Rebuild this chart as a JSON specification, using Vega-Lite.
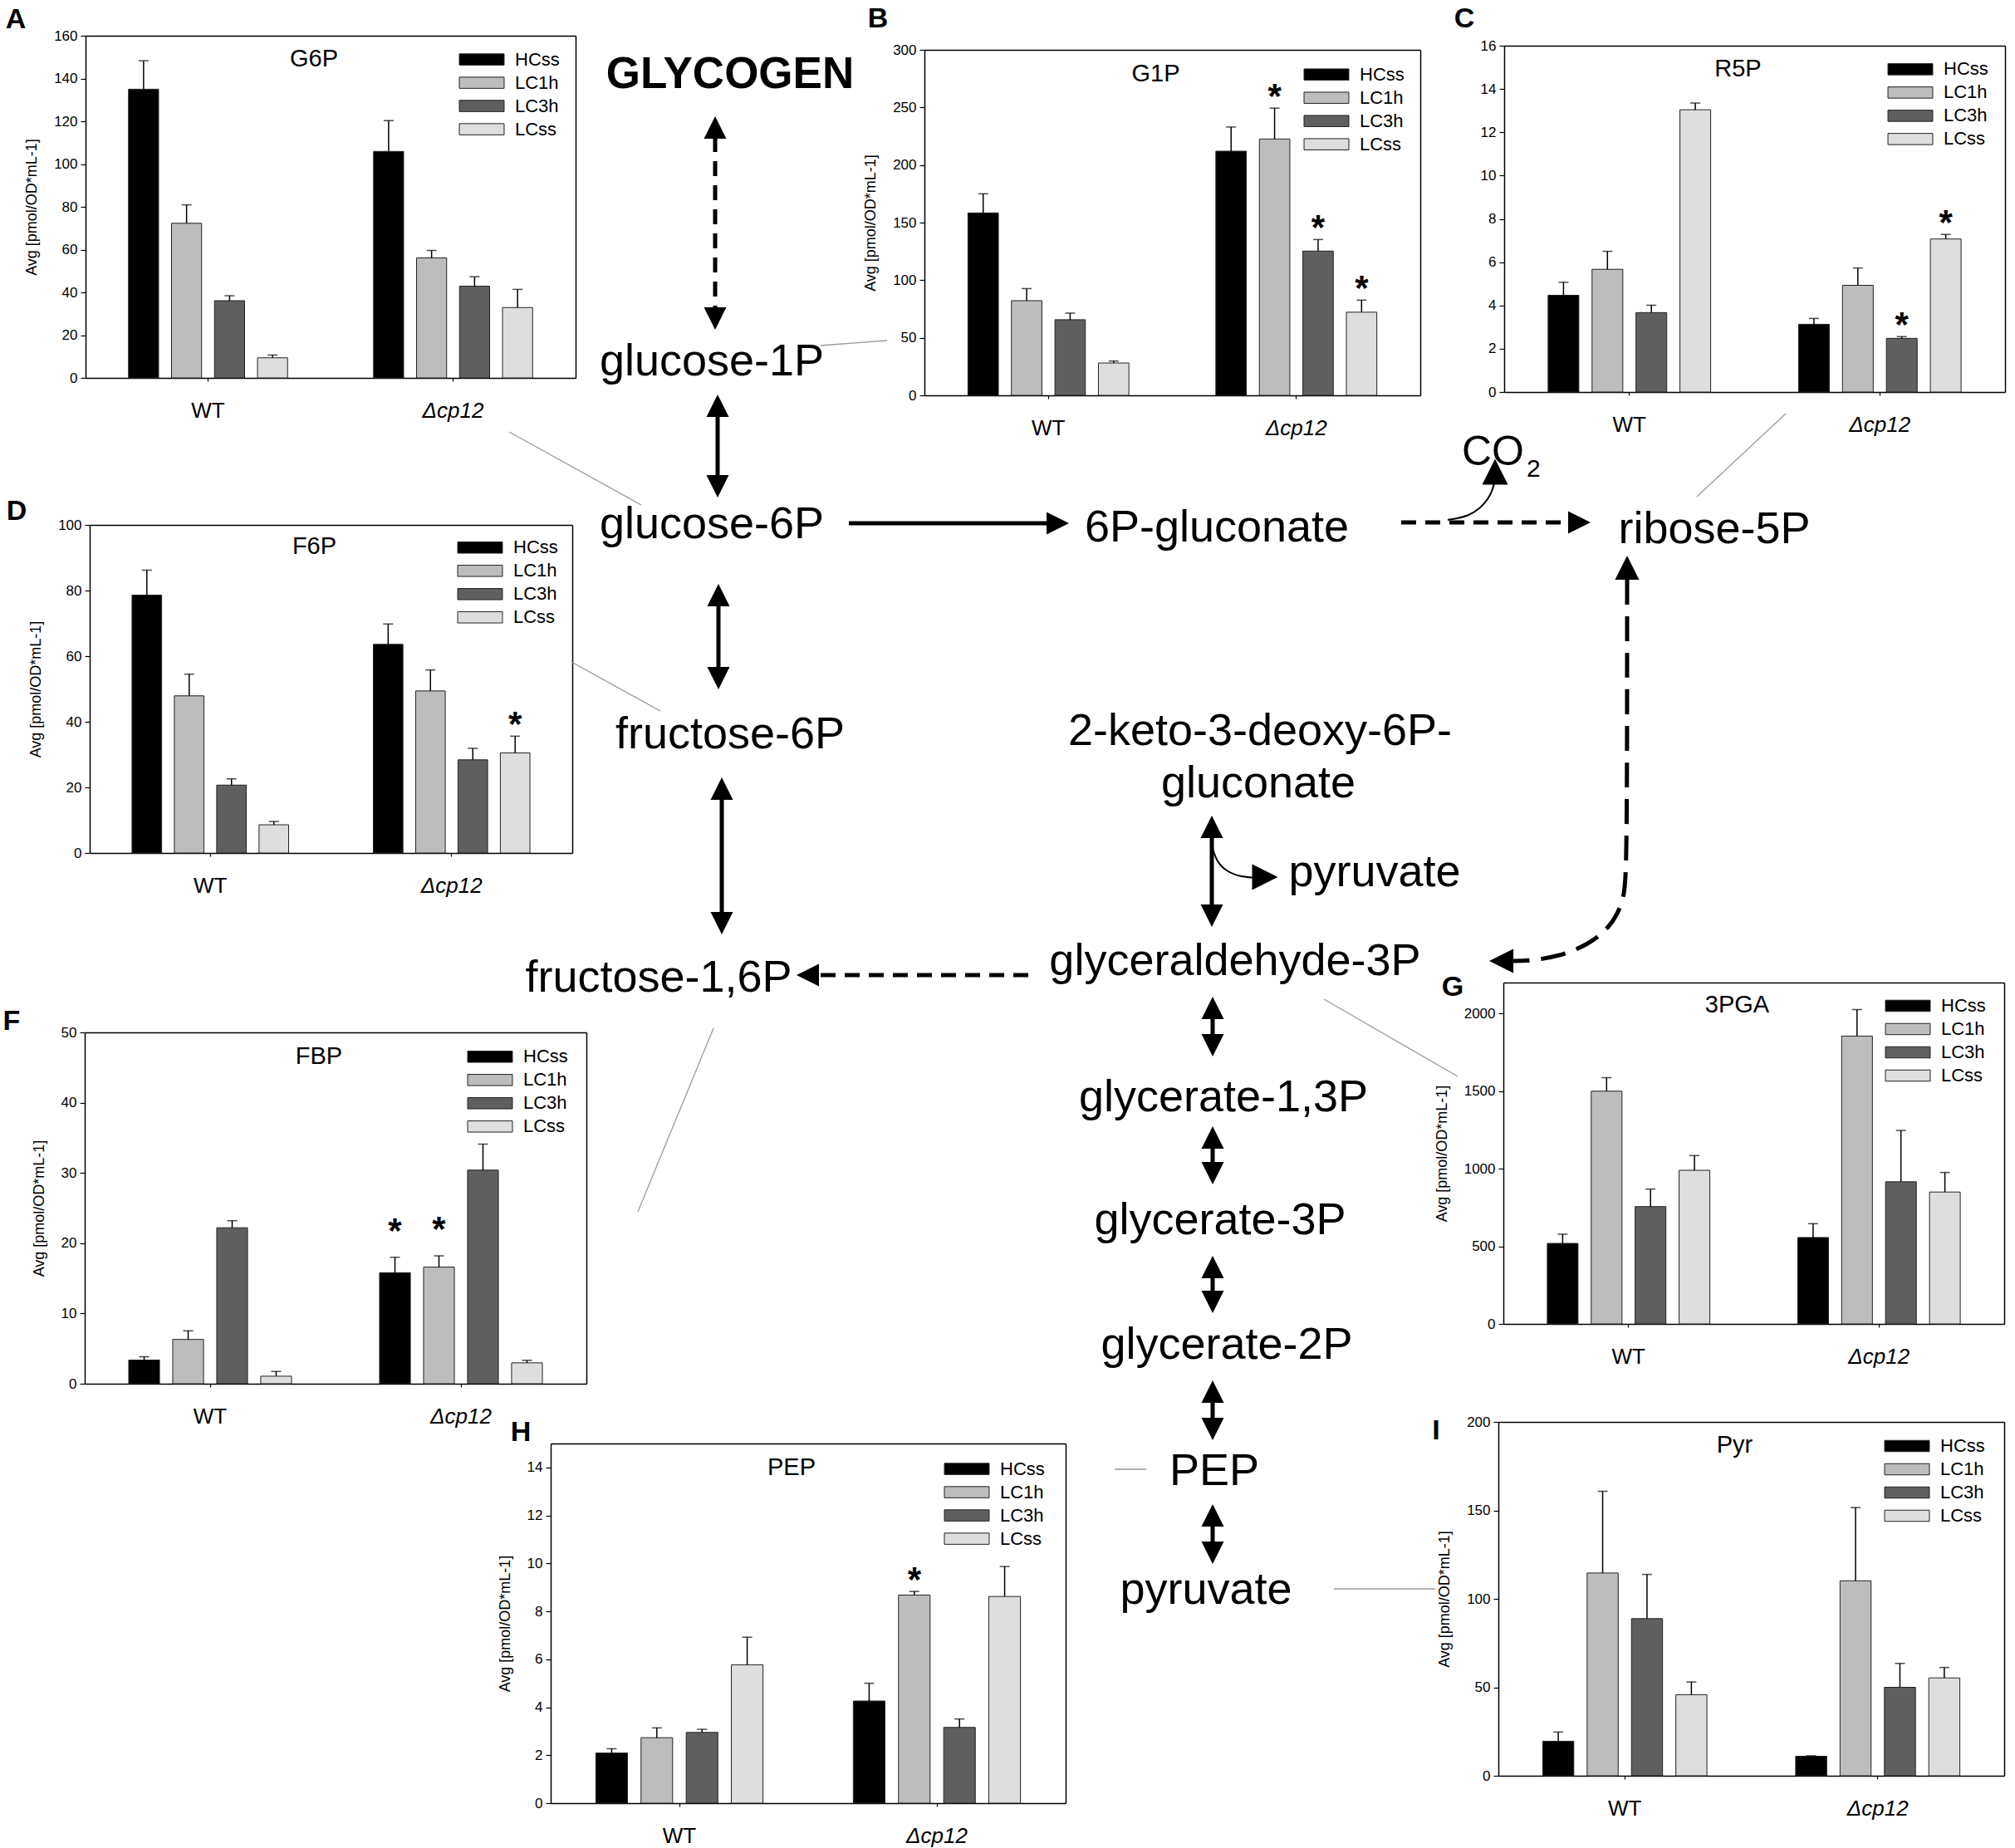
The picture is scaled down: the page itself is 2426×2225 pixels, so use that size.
{
"$schema":"https://vega.github.io/schema/vega-lite/v6.json",
"width":2426,"height":2225,"autosize":{"type":"none"},"padding":0,"background":"white",
"config":{"font":"Liberation Sans","view":{"stroke":null},
"axis":{"grid":false,"domainColor":"#000","domainWidth":1.5,"tickColor":"#000","tickWidth":1.2,"tickSize":6,"labelColor":"#000","labelFontSize":17,"labelPadding":4,"titleColor":"#000","titleFontSize":18,"titleFontWeight":"normal","titlePadding":17},
"legend":{"symbolStrokeColor":"#222","symbolStrokeWidth":1,"symbolOpacity":1,"labelFontSize":22,"labelColor":"#000","labelOffset":29,"rowPadding":6,"padding":0},
"text":{"color":"#000"}},
"resolve":{"scale":{"x":"independent","y":"independent","xOffset":"independent","color":"independent","size":"independent","angle":"independent"},"axis":{"x":"independent","y":"independent"},"legend":{"color":"independent","size":"independent"}},
"layer":[
{"encoding":{"x":{"field":"x","type":"quantitative","scale":{"domain":[0,242.6],"nice":false,"zero":false},"axis":null},"y":{"field":"y","type":"quantitative","scale":{"domain":[0,222.5],"nice":false,"zero":false,"reverse":true},"axis":null}},
"layer":[
{"data":{"values":[{"x":61.3,"y":52.0,"x2":77.2,"y2":60.8},{"x":98.8,"y":41.6,"x2":106.8,"y2":41.0},{"x":68.8,"y":79.7,"x2":79.5,"y2":85.6},{"x":215.0,"y":49.8,"x2":204.3,"y2":59.8},{"x":76.8,"y":145.9,"x2":85.9,"y2":123.8},{"x":159.4,"y":120.3,"x2":175.5,"y2":129.6},{"x":134.2,"y":176.9,"x2":138.0,"y2":176.9},{"x":160.6,"y":191.3,"x2":172.8,"y2":191.3}]},
"mark":{"type":"rule","color":"#9a9a9a","strokeWidth":1.3},"encoding":{"x2":{"field":"x2"},"y2":{"field":"y2"}}},
{"data":{"values":[{"x":86.4,"y":49.5,"x2":86.4,"y2":58.0},{"x":102.2,"y":63.0,"x2":127.5,"y2":63.0},{"x":86.5,"y":72.5,"x2":86.5,"y2":81.0},{"x":86.9,"y":95.5,"x2":86.9,"y2":110.5},{"x":145.9,"y":100.0,"x2":145.9,"y2":110.0},{"x":146.0,"y":121.5,"x2":146.0,"y2":125.5},{"x":146.0,"y":137.0,"x2":146.0,"y2":141.0},{"x":146.0,"y":152.5,"x2":146.0,"y2":156.5},{"x":146.0,"y":167.5,"x2":146.0,"y2":172.0},{"x":146.0,"y":182.5,"x2":146.0,"y2":187.0}]},
"mark":{"type":"rule","color":"#000","strokeWidth":5},"encoding":{"x2":{"field":"x2"},"y2":{"field":"y2"}}},
{"data":{"values":[{"x":86.1,"y":16.5,"x2":86.1,"y2":37.5},{"x":168.7,"y":62.9,"x2":189.0,"y2":62.9},{"x":123.8,"y":117.4,"x2":98.5,"y2":117.4}]},
"mark":{"type":"rule","color":"#000","strokeWidth":5,"strokeDash":[18,11]},"encoding":{"x2":{"field":"x2"},"y2":{"field":"y2"}}},
{"data":{"values":[{"i":1,"x":195.9,"y":69.8},{"i":2,"x":195.9,"y":104.9},{"i":3,"x":195.5,"y":108.5},{"i":4,"x":194.0,"y":111.5},{"i":5,"x":191.2,"y":113.8},{"i":6,"x":187.5,"y":115.2},{"i":7,"x":184.0,"y":115.7},{"i":8,"x":182.0,"y":115.7}]},
"mark":{"type":"line","interpolate":"basis","color":"#000","strokeWidth":5,"strokeDash":[30,14]},"encoding":{"order":{"field":"i","type":"quantitative"}}},
{"data":{"values":[{"p":"co2","i":1,"x":174.3,"y":62.6},{"p":"co2","i":2,"x":176.8,"y":62.2},{"p":"co2","i":3,"x":178.6,"y":60.9},{"p":"co2","i":4,"x":179.7,"y":59.2},{"p":"co2","i":5,"x":180.0,"y":57.7},{"p":"pyr","i":1,"x":145.9,"y":101.8},{"p":"pyr","i":2,"x":146.4,"y":103.6},{"p":"pyr","i":3,"x":147.6,"y":104.9},{"p":"pyr","i":4,"x":149.4,"y":105.6},{"p":"pyr","i":5,"x":151.6,"y":105.7}]},
"mark":{"type":"line","interpolate":"basis","color":"#000","strokeWidth":2},"encoding":{"detail":{"field":"p"},"order":{"field":"i","type":"quantitative"}}},
{"data":{"values":[{"x":86.1,"y":15.35,"a":0,"k":"L"},{"x":86.1,"y":38.35,"a":180,"k":"L"},{"x":86.4,"y":48.85,"a":0,"k":"L"},{"x":86.4,"y":58.55,"a":180,"k":"L"},{"x":127.35,"y":63.0,"a":90,"k":"L"},{"x":190.15,"y":62.9,"a":90,"k":"L"},{"x":86.5,"y":71.65,"a":0,"k":"L"},{"x":86.5,"y":81.65,"a":180,"k":"L"},{"x":86.9,"y":94.95,"a":0,"k":"L"},{"x":86.9,"y":111.15,"a":180,"k":"L"},{"x":145.9,"y":99.55,"a":0,"k":"L"},{"x":145.9,"y":110.25,"a":180,"k":"L"},{"x":97.25,"y":117.4,"a":270,"k":"L"},{"x":146.0,"y":121.35,"a":0,"k":"L"},{"x":146.0,"y":125.85,"a":180,"k":"L"},{"x":146.0,"y":136.95,"a":0,"k":"L"},{"x":146.0,"y":141.25,"a":180,"k":"L"},{"x":146.0,"y":152.55,"a":0,"k":"L"},{"x":146.0,"y":156.75,"a":180,"k":"L"},{"x":146.0,"y":167.55,"a":0,"k":"L"},{"x":146.0,"y":172.05,"a":180,"k":"L"},{"x":146.0,"y":182.45,"a":0,"k":"L"},{"x":146.0,"y":186.95,"a":180,"k":"L"},{"x":195.9,"y":68.35,"a":0,"k":"XL"},{"x":180.75,"y":115.7,"a":270,"k":"XL"},{"x":180.0,"y":56.8,"a":0,"k":"S"},{"x":152.3,"y":105.6,"a":90,"k":"S"}]},
"mark":{"type":"point","shape":"M0,-1L-1,1L1,1Z","filled":true,"color":"#000","opacity":1},
"encoding":{"angle":{"field":"a","type":"quantitative","scale":null},"size":{"field":"k","type":"ordinal","scale":{"domain":["L","XL","S"],"range":[729,961,256]},"legend":null}}},
{"data":{"values":[{"t":"glucose-1P","x":85.7,"y":45.2},{"t":"glucose-6P","x":85.7,"y":64.8},{"t":"6P-gluconate","x":146.5,"y":65.2},{"t":"ribose-5P","x":206.4,"y":65.4},{"t":"fructose-6P","x":87.9,"y":90.1},{"t":"2-keto-3-deoxy-6P-","x":151.7,"y":89.7},{"t":"gluconate","x":151.5,"y":96.0},{"t":"pyruvate","x":165.5,"y":106.7},{"t":"fructose-1,6P","x":79.3,"y":119.4},{"t":"glyceraldehyde-3P","x":148.7,"y":117.4},{"t":"glycerate-1,3P","x":147.3,"y":133.8},{"t":"glycerate-3P","x":146.9,"y":148.6},{"t":"glycerate-2P","x":147.7,"y":163.6},{"t":"PEP","x":146.2,"y":178.8},{"t":"pyruvate","x":145.2,"y":193.1}]},
"mark":{"type":"text","fontSize":54,"align":"center","baseline":"alphabetic"},"encoding":{"text":{"field":"t"}}},
{"data":{"values":[{"t":"GLYCOGEN","x":87.9,"y":10.6}]},
"mark":{"type":"text","fontSize":53,"fontWeight":"bold","align":"center","baseline":"alphabetic"},"encoding":{"text":{"field":"t"}}},
{"data":{"values":[{"t":"CO","x":176.0,"y":56.0}]},
"mark":{"type":"text","fontSize":50,"align":"left","baseline":"alphabetic"},"encoding":{"text":{"field":"t"}}},
{"data":{"values":[{"t":"2","x":183.8,"y":57.4}]},
"mark":{"type":"text","fontSize":30,"align":"left","baseline":"alphabetic"},"encoding":{"text":{"field":"t"}}},
{"data":{"values":[{"t":"A","x":1.9,"y":3.4},{"t":"B","x":105.7,"y":3.3},{"t":"C","x":176.3,"y":3.3},{"t":"D","x":2.0,"y":62.6},{"t":"F","x":1.4,"y":124.0},{"t":"G","x":174.9,"y":119.9},{"t":"H","x":62.7,"y":173.5},{"t":"I","x":172.9,"y":173.3}]},
"mark":{"type":"text","fontSize":34,"fontWeight":"bold","align":"center","baseline":"alphabetic"},"encoding":{"text":{"field":"t"}}}
]},

{"data":{"values":[{"g":"WT","c":"HCss","v":135.0,"e":148.3,"s":""},{"g":"WT","c":"LC1h","v":72.3,"e":80.9,"s":""},{"g":"WT","c":"LC3h","v":36.1,"e":38.4,"s":""},{"g":"WT","c":"LCss","v":9.4,"e":10.7,"s":""},{"g":"Δcp12","c":"HCss","v":105.9,"e":120.3,"s":""},{"g":"Δcp12","c":"LC1h","v":56.1,"e":59.6,"s":""},{"g":"Δcp12","c":"LC3h","v":42.9,"e":47.3,"s":""},{"g":"Δcp12","c":"LCss","v":32.9,"e":41.4,"s":""}]},
"resolve":{"axis":{"x":"independent","y":"independent"}},
"layer":[
{"mark":{"type":"bar","stroke":"#222","strokeWidth":1},"encoding":{
"x":{"field":"g","type":"nominal","scale":{"domain":["WT","Δcp12"],"range":[103,693],"paddingInner":0,"paddingOuter":0},"axis":{"orient":"bottom","offset":-1770,"title":null,"labelAngle":0,"labelFontSize":26,"labelPadding":22,"tickSize":4,"labelFontStyle":{"condition":{"test":"datum.value !== 'WT'","value":"italic"},"value":"normal"}}},
"xOffset":{"field":"c","type":"nominal","scale":{"domain":["HCss","LC1h","LC3h","LCss"],"paddingInner":0.3,"paddingOuter":1}},
"y":{"field":"v","type":"quantitative","scale":{"domain":[0,160],"range":[455,43],"nice":false,"zero":true},"axis":{"orient":"left","offset":-103,"title":"Avg [pmol/OD*mL-1]","values":[0,20,40,60,80,100,120,140,160],"format":"d"}},
"color":{"field":"c","type":"nominal","scale":{"domain":["HCss","LC1h","LC3h","LCss"],"range":["#000000","#bdbdbd","#5f5f5f","#dedede"]},"legend":{"title":null,"orient":"none","legendX":569,"legendY":60.6,"symbolType":"M-4,-1H4V1H-4Z","symbolSize":182}}}},
{"mark":{"type":"rule","color":"#000","strokeWidth":1.5},"encoding":{"x":{"field":"g","type":"nominal","axis":{"orient":"top","offset":-43,"labels":false,"ticks":false,"title":null}},"xOffset":{"field":"c","type":"nominal"},"y":{"field":"v","type":"quantitative","axis":{"orient":"right","offset":-1733,"labels":false,"ticks":false,"title":null}},"y2":{"field":"e"}}},
{"mark":{"type":"tick","color":"#000","size":12,"thickness":1.5},"encoding":{"x":{"field":"g","type":"nominal","axis":null},"xOffset":{"field":"c","type":"nominal"},"y":{"field":"e","type":"quantitative","axis":null}}},
{"mark":{"type":"text","fontSize":42,"fontWeight":"bold","baseline":"alphabetic"},"encoding":{"x":{"field":"g","type":"nominal","axis":null},"xOffset":{"field":"c","type":"nominal"},"y":{"field":"e","type":"quantitative","axis":null},"text":{"field":"s"}}},
{"data":{"values":[{"t":"G6P"}]},"mark":{"type":"text","fontSize":29,"baseline":"middle","dx":-20},"encoding":{"x":{"datum":"Δcp12","type":"nominal","bandPosition":0,"axis":null},"y":{"datum":149.3,"type":"quantitative","axis":null},"text":{"field":"t"}}}
]},

{"data":{"values":[{"g":"WT","c":"HCss","v":158.4,"e":175,"s":""},{"g":"WT","c":"LC1h","v":82.2,"e":92.7,"s":""},{"g":"WT","c":"LC3h","v":65.7,"e":71.4,"s":""},{"g":"WT","c":"LCss","v":28.1,"e":29.8,"s":""},{"g":"Δcp12","c":"HCss","v":212,"e":233,"s":""},{"g":"Δcp12","c":"LC1h","v":222.6,"e":249.4,"s":"*"},{"g":"Δcp12","c":"LC3h","v":125.3,"e":135.3,"s":"*"},{"g":"Δcp12","c":"LCss","v":72.2,"e":82.7,"s":"*"}]},
"resolve":{"axis":{"x":"independent","y":"independent"}},
"layer":[
{"mark":{"type":"bar","stroke":"#222","strokeWidth":1},"encoding":{
"x":{"field":"g","type":"nominal","scale":{"domain":["WT","Δcp12"],"range":[1113,1710],"paddingInner":0,"paddingOuter":0},"axis":{"orient":"bottom","offset":-1749,"title":null,"labelAngle":0,"labelFontSize":26,"labelPadding":22,"tickSize":4,"labelFontStyle":{"condition":{"test":"datum.value !== 'WT'","value":"italic"},"value":"normal"}}},
"xOffset":{"field":"c","type":"nominal","scale":{"domain":["HCss","LC1h","LC3h","LCss"],"paddingInner":0.3,"paddingOuter":1}},
"y":{"field":"v","type":"quantitative","scale":{"domain":[0,300],"range":[476,60],"nice":false,"zero":true},"axis":{"orient":"left","offset":-1113,"title":"Avg [pmol/OD*mL-1]","values":[0,50,100,150,200,250,300],"format":"d"}},
"color":{"field":"c","type":"nominal","scale":{"domain":["HCss","LC1h","LC3h","LCss"],"range":["#000000","#bdbdbd","#5f5f5f","#dedede"]},"legend":{"title":null,"orient":"none","legendX":1586,"legendY":78.7,"symbolType":"M-4,-1H4V1H-4Z","symbolSize":182}}}},
{"mark":{"type":"rule","color":"#000","strokeWidth":1.5},"encoding":{"x":{"field":"g","type":"nominal","axis":{"orient":"top","offset":-60,"labels":false,"ticks":false,"title":null}},"xOffset":{"field":"c","type":"nominal"},"y":{"field":"v","type":"quantitative","axis":{"orient":"right","offset":-716,"labels":false,"ticks":false,"title":null}},"y2":{"field":"e"}}},
{"mark":{"type":"tick","color":"#000","size":12,"thickness":1.5},"encoding":{"x":{"field":"g","type":"nominal","axis":null},"xOffset":{"field":"c","type":"nominal"},"y":{"field":"e","type":"quantitative","axis":null}}},
{"mark":{"type":"text","fontSize":42,"fontWeight":"bold","baseline":"alphabetic"},"encoding":{"x":{"field":"g","type":"nominal","axis":null},"xOffset":{"field":"c","type":"nominal"},"y":{"field":"e","type":"quantitative","axis":null},"text":{"field":"s"}}},
{"data":{"values":[{"t":"G1P"}]},"mark":{"type":"text","fontSize":29,"baseline":"middle","dx":-20},"encoding":{"x":{"datum":"Δcp12","type":"nominal","bandPosition":0,"axis":null},"y":{"datum":279.4,"type":"quantitative","axis":null},"text":{"field":"t"}}}
]},

{"data":{"values":[{"g":"WT","c":"HCss","v":4.47,"e":5.07,"s":""},{"g":"WT","c":"LC1h","v":5.67,"e":6.5,"s":""},{"g":"WT","c":"LC3h","v":3.67,"e":4.01,"s":""},{"g":"WT","c":"LCss","v":13.04,"e":13.35,"s":""},{"g":"Δcp12","c":"HCss","v":3.13,"e":3.4,"s":""},{"g":"Δcp12","c":"LC1h","v":4.93,"e":5.73,"s":""},{"g":"Δcp12","c":"LC3h","v":2.48,"e":2.56,"s":"*"},{"g":"Δcp12","c":"LCss","v":7.07,"e":7.28,"s":"*"}]},
"resolve":{"axis":{"x":"independent","y":"independent"}},
"layer":[
{"mark":{"type":"bar","stroke":"#222","strokeWidth":1},"encoding":{
"x":{"field":"g","type":"nominal","scale":{"domain":["WT","Δcp12"],"range":[1811,2414],"paddingInner":0,"paddingOuter":0},"axis":{"orient":"bottom","offset":-1753,"title":null,"labelAngle":0,"labelFontSize":26,"labelPadding":22,"tickSize":4,"labelFontStyle":{"condition":{"test":"datum.value !== 'WT'","value":"italic"},"value":"normal"}}},
"xOffset":{"field":"c","type":"nominal","scale":{"domain":["HCss","LC1h","LC3h","LCss"],"paddingInner":0.3,"paddingOuter":1}},
"y":{"field":"v","type":"quantitative","scale":{"domain":[0,16],"range":[472,55],"nice":false,"zero":true},"axis":{"orient":"left","offset":-1811,"title":null,"values":[0,2,4,6,8,10,12,14,16],"format":"d"}},
"color":{"field":"c","type":"nominal","scale":{"domain":["HCss","LC1h","LC3h","LCss"],"range":["#000000","#bdbdbd","#5f5f5f","#dedede"]},"legend":{"title":null,"orient":"none","legendX":2289,"legendY":72.4,"symbolType":"M-4,-1H4V1H-4Z","symbolSize":182}}}},
{"mark":{"type":"rule","color":"#000","strokeWidth":1.5},"encoding":{"x":{"field":"g","type":"nominal","axis":{"orient":"top","offset":-55,"labels":false,"ticks":false,"title":null}},"xOffset":{"field":"c","type":"nominal"},"y":{"field":"v","type":"quantitative","axis":{"orient":"right","offset":-12,"labels":false,"ticks":false,"title":null}},"y2":{"field":"e"}}},
{"mark":{"type":"tick","color":"#000","size":12,"thickness":1.5},"encoding":{"x":{"field":"g","type":"nominal","axis":null},"xOffset":{"field":"c","type":"nominal"},"y":{"field":"e","type":"quantitative","axis":null}}},
{"mark":{"type":"text","fontSize":42,"fontWeight":"bold","baseline":"alphabetic"},"encoding":{"x":{"field":"g","type":"nominal","axis":null},"xOffset":{"field":"c","type":"nominal"},"y":{"field":"e","type":"quantitative","axis":null},"text":{"field":"s"}}},
{"data":{"values":[{"t":"R5P"}]},"mark":{"type":"text","fontSize":29,"baseline":"middle","dx":-20},"encoding":{"x":{"datum":"Δcp12","type":"nominal","bandPosition":0,"axis":null},"y":{"datum":14.91,"type":"quantitative","axis":null},"text":{"field":"t"}}}
]},

{"data":{"values":[{"g":"WT","c":"HCss","v":78.6,"e":86.2,"s":""},{"g":"WT","c":"LC1h","v":47.9,"e":54.5,"s":""},{"g":"WT","c":"LC3h","v":20.7,"e":22.6,"s":""},{"g":"WT","c":"LCss","v":8.6,"e":9.6,"s":""},{"g":"Δcp12","c":"HCss","v":63.6,"e":69.8,"s":""},{"g":"Δcp12","c":"LC1h","v":49.4,"e":55.8,"s":""},{"g":"Δcp12","c":"LC3h","v":28.4,"e":31.9,"s":""},{"g":"Δcp12","c":"LCss","v":30.5,"e":35.6,"s":"*"}]},
"resolve":{"axis":{"x":"independent","y":"independent"}},
"layer":[
{"mark":{"type":"bar","stroke":"#222","strokeWidth":1},"encoding":{
"x":{"field":"g","type":"nominal","scale":{"domain":["WT","Δcp12"],"range":[108,689],"paddingInner":0,"paddingOuter":0},"axis":{"orient":"bottom","offset":-1198,"title":null,"labelAngle":0,"labelFontSize":26,"labelPadding":22,"tickSize":4,"labelFontStyle":{"condition":{"test":"datum.value !== 'WT'","value":"italic"},"value":"normal"}}},
"xOffset":{"field":"c","type":"nominal","scale":{"domain":["HCss","LC1h","LC3h","LCss"],"paddingInner":0.3,"paddingOuter":1}},
"y":{"field":"v","type":"quantitative","scale":{"domain":[0,100],"range":[1027,632],"nice":false,"zero":true},"axis":{"orient":"left","offset":-108,"title":"Avg [pmol/OD*mL-1]","values":[0,20,40,60,80,100],"format":"d"}},
"color":{"field":"c","type":"nominal","scale":{"domain":["HCss","LC1h","LC3h","LCss"],"range":["#000000","#bdbdbd","#5f5f5f","#dedede"]},"legend":{"title":null,"orient":"none","legendX":567,"legendY":648.3,"symbolType":"M-4,-1H4V1H-4Z","symbolSize":182}}}},
{"mark":{"type":"rule","color":"#000","strokeWidth":1.5},"encoding":{"x":{"field":"g","type":"nominal","axis":{"orient":"top","offset":-632,"labels":false,"ticks":false,"title":null}},"xOffset":{"field":"c","type":"nominal"},"y":{"field":"v","type":"quantitative","axis":{"orient":"right","offset":-1737,"labels":false,"ticks":false,"title":null}},"y2":{"field":"e"}}},
{"mark":{"type":"tick","color":"#000","size":12,"thickness":1.5},"encoding":{"x":{"field":"g","type":"nominal","axis":null},"xOffset":{"field":"c","type":"nominal"},"y":{"field":"e","type":"quantitative","axis":null}}},
{"mark":{"type":"text","fontSize":42,"fontWeight":"bold","baseline":"alphabetic"},"encoding":{"x":{"field":"g","type":"nominal","axis":null},"xOffset":{"field":"c","type":"nominal"},"y":{"field":"e","type":"quantitative","axis":null},"text":{"field":"s"}}},
{"data":{"values":[{"t":"F6P"}]},"mark":{"type":"text","fontSize":29,"baseline":"middle","dx":-20},"encoding":{"x":{"datum":"Δcp12","type":"nominal","bandPosition":0,"axis":null},"y":{"datum":93.3,"type":"quantitative","axis":null},"text":{"field":"t"}}}
]},

{"data":{"values":[{"g":"WT","c":"HCss","v":3.37,"e":3.84,"s":""},{"g":"WT","c":"LC1h","v":6.3,"e":7.53,"s":""},{"g":"WT","c":"LC3h","v":22.2,"e":23.2,"s":""},{"g":"WT","c":"LCss","v":1.07,"e":1.74,"s":""},{"g":"Δcp12","c":"HCss","v":15.8,"e":18.0,"s":"*"},{"g":"Δcp12","c":"LC1h","v":16.6,"e":18.2,"s":"*"},{"g":"Δcp12","c":"LC3h","v":30.4,"e":34.1,"s":""},{"g":"Δcp12","c":"LCss","v":2.97,"e":3.33,"s":""}]},
"resolve":{"axis":{"x":"independent","y":"independent"}},
"layer":[
{"mark":{"type":"bar","stroke":"#222","strokeWidth":1},"encoding":{
"x":{"field":"g","type":"nominal","scale":{"domain":["WT","Δcp12"],"range":[102,706],"paddingInner":0,"paddingOuter":0},"axis":{"orient":"bottom","offset":-559,"title":null,"labelAngle":0,"labelFontSize":26,"labelPadding":22,"tickSize":4,"labelFontStyle":{"condition":{"test":"datum.value !== 'WT'","value":"italic"},"value":"normal"}}},
"xOffset":{"field":"c","type":"nominal","scale":{"domain":["HCss","LC1h","LC3h","LCss"],"paddingInner":0.3,"paddingOuter":1}},
"y":{"field":"v","type":"quantitative","scale":{"domain":[0,50],"range":[1666,1243],"nice":false,"zero":true},"axis":{"orient":"left","offset":-102,"title":"Avg [pmol/OD*mL-1]","values":[0,10,20,30,40,50],"format":"d"}},
"color":{"field":"c","type":"nominal","scale":{"domain":["HCss","LC1h","LC3h","LCss"],"range":["#000000","#bdbdbd","#5f5f5f","#dedede"]},"legend":{"title":null,"orient":"none","legendX":579,"legendY":1261.3,"symbolType":"M-4,-1H4V1H-4Z","symbolSize":182}}}},
{"mark":{"type":"rule","color":"#000","strokeWidth":1.5},"encoding":{"x":{"field":"g","type":"nominal","axis":{"orient":"top","offset":-1243,"labels":false,"ticks":false,"title":null}},"xOffset":{"field":"c","type":"nominal"},"y":{"field":"v","type":"quantitative","axis":{"orient":"right","offset":-1720,"labels":false,"ticks":false,"title":null}},"y2":{"field":"e"}}},
{"mark":{"type":"tick","color":"#000","size":12,"thickness":1.5},"encoding":{"x":{"field":"g","type":"nominal","axis":null},"xOffset":{"field":"c","type":"nominal"},"y":{"field":"e","type":"quantitative","axis":null}}},
{"mark":{"type":"text","fontSize":42,"fontWeight":"bold","baseline":"alphabetic","dy":-18},"encoding":{"x":{"field":"g","type":"nominal","axis":null},"xOffset":{"field":"c","type":"nominal"},"y":{"field":"e","type":"quantitative","axis":null},"text":{"field":"s"}}},
{"data":{"values":[{"t":"FBP"}]},"mark":{"type":"text","fontSize":29,"baseline":"middle","dx":-20},"encoding":{"x":{"datum":"Δcp12","type":"nominal","bandPosition":0,"axis":null},"y":{"datum":46.6,"type":"quantitative","axis":null},"text":{"field":"t"}}}
]},

{"data":{"values":[{"g":"WT","c":"HCss","v":519,"e":578,"s":""},{"g":"WT","c":"LC1h","v":1500,"e":1587,"s":""},{"g":"WT","c":"LC3h","v":756,"e":869,"s":""},{"g":"WT","c":"LCss","v":990,"e":1085,"s":""},{"g":"Δcp12","c":"HCss","v":557,"e":646,"s":""},{"g":"Δcp12","c":"LC1h","v":1855,"e":2026,"s":""},{"g":"Δcp12","c":"LC3h","v":916,"e":1247,"s":""},{"g":"Δcp12","c":"LCss","v":850,"e":976,"s":""}]},
"resolve":{"axis":{"x":"independent","y":"independent"}},
"layer":[
{"mark":{"type":"bar","stroke":"#222","strokeWidth":1},"encoding":{
"x":{"field":"g","type":"nominal","scale":{"domain":["WT","Δcp12"],"range":[1810,2413],"paddingInner":0,"paddingOuter":0},"axis":{"orient":"bottom","offset":-631,"title":null,"labelAngle":0,"labelFontSize":26,"labelPadding":22,"tickSize":4,"labelFontStyle":{"condition":{"test":"datum.value !== 'WT'","value":"italic"},"value":"normal"}}},
"xOffset":{"field":"c","type":"nominal","scale":{"domain":["HCss","LC1h","LC3h","LCss"],"paddingInner":0.3,"paddingOuter":1}},
"y":{"field":"v","type":"quantitative","scale":{"domain":[0,2200],"range":[1594,1183],"nice":false,"zero":true},"axis":{"orient":"left","offset":-1810,"title":"Avg [pmol/OD*mL-1]","values":[0,500,1000,1500,2000],"format":"d"}},
"color":{"field":"c","type":"nominal","scale":{"domain":["HCss","LC1h","LC3h","LCss"],"range":["#000000","#bdbdbd","#5f5f5f","#dedede"]},"legend":{"title":null,"orient":"none","legendX":2286,"legendY":1200,"symbolType":"M-4,-1H4V1H-4Z","symbolSize":182}}}},
{"mark":{"type":"rule","color":"#000","strokeWidth":1.5},"encoding":{"x":{"field":"g","type":"nominal","axis":{"orient":"top","offset":-1183,"labels":false,"ticks":false,"title":null}},"xOffset":{"field":"c","type":"nominal"},"y":{"field":"v","type":"quantitative","axis":{"orient":"right","offset":-13,"labels":false,"ticks":false,"title":null}},"y2":{"field":"e"}}},
{"mark":{"type":"tick","color":"#000","size":12,"thickness":1.5},"encoding":{"x":{"field":"g","type":"nominal","axis":null},"xOffset":{"field":"c","type":"nominal"},"y":{"field":"e","type":"quantitative","axis":null}}},
{"mark":{"type":"text","fontSize":42,"fontWeight":"bold","baseline":"alphabetic"},"encoding":{"x":{"field":"g","type":"nominal","axis":null},"xOffset":{"field":"c","type":"nominal"},"y":{"field":"e","type":"quantitative","axis":null},"text":{"field":"s"}}},
{"data":{"values":[{"t":"3PGA"}]},"mark":{"type":"text","fontSize":29,"baseline":"middle","dx":-20},"encoding":{"x":{"datum":"Δcp12","type":"nominal","bandPosition":0,"axis":null},"y":{"datum":2053,"type":"quantitative","axis":null},"text":{"field":"t"}}}
]},

{"data":{"values":[{"g":"WT","c":"HCss","v":2.09,"e":2.27,"s":""},{"g":"WT","c":"LC1h","v":2.73,"e":3.14,"s":""},{"g":"WT","c":"LC3h","v":2.95,"e":3.08,"s":""},{"g":"WT","c":"LCss","v":5.77,"e":6.92,"s":""},{"g":"Δcp12","c":"HCss","v":4.26,"e":5.0,"s":""},{"g":"Δcp12","c":"LC1h","v":8.68,"e":8.83,"s":"*"},{"g":"Δcp12","c":"LC3h","v":3.16,"e":3.51,"s":""},{"g":"Δcp12","c":"LCss","v":8.62,"e":9.87,"s":""}]},
"resolve":{"axis":{"x":"independent","y":"independent"}},
"layer":[
{"mark":{"type":"bar","stroke":"#222","strokeWidth":1},"encoding":{
"x":{"field":"g","type":"nominal","scale":{"domain":["WT","Δcp12"],"range":[663,1283],"paddingInner":0,"paddingOuter":0},"axis":{"orient":"bottom","offset":-54,"title":null,"labelAngle":0,"labelFontSize":26,"labelPadding":22,"tickSize":4,"labelFontStyle":{"condition":{"test":"datum.value !== 'WT'","value":"italic"},"value":"normal"}}},
"xOffset":{"field":"c","type":"nominal","scale":{"domain":["HCss","LC1h","LC3h","LCss"],"paddingInner":0.3,"paddingOuter":1}},
"y":{"field":"v","type":"quantitative","scale":{"domain":[0,15],"range":[2171,1738],"nice":false,"zero":true},"axis":{"orient":"left","offset":-663,"title":"Avg [pmol/OD*mL-1]","values":[0,2,4,6,8,10,12,14],"format":"d"}},
"color":{"field":"c","type":"nominal","scale":{"domain":["HCss","LC1h","LC3h","LCss"],"range":["#000000","#bdbdbd","#5f5f5f","#dedede"]},"legend":{"title":null,"orient":"none","legendX":1153,"legendY":1757.6,"symbolType":"M-4,-1H4V1H-4Z","symbolSize":182}}}},
{"mark":{"type":"rule","color":"#000","strokeWidth":1.5},"encoding":{"x":{"field":"g","type":"nominal","axis":{"orient":"top","offset":-1738,"labels":false,"ticks":false,"title":null}},"xOffset":{"field":"c","type":"nominal"},"y":{"field":"v","type":"quantitative","axis":{"orient":"right","offset":-1143,"labels":false,"ticks":false,"title":null}},"y2":{"field":"e"}}},
{"mark":{"type":"tick","color":"#000","size":12,"thickness":1.5},"encoding":{"x":{"field":"g","type":"nominal","axis":null},"xOffset":{"field":"c","type":"nominal"},"y":{"field":"e","type":"quantitative","axis":null}}},
{"mark":{"type":"text","fontSize":42,"fontWeight":"bold","baseline":"alphabetic"},"encoding":{"x":{"field":"g","type":"nominal","axis":null},"xOffset":{"field":"c","type":"nominal"},"y":{"field":"e","type":"quantitative","axis":null},"text":{"field":"s"}}},
{"data":{"values":[{"t":"PEP"}]},"mark":{"type":"text","fontSize":29,"baseline":"middle","dx":-20},"encoding":{"x":{"datum":"Δcp12","type":"nominal","bandPosition":0,"axis":null},"y":{"datum":14.0,"type":"quantitative","axis":null},"text":{"field":"t"}}}
]},

{"data":{"values":[{"g":"WT","c":"HCss","v":19.5,"e":24.7,"s":""},{"g":"WT","c":"LC1h","v":114.6,"e":160.8,"s":""},{"g":"WT","c":"LC3h","v":88.8,"e":113.8,"s":""},{"g":"WT","c":"LCss","v":45.8,"e":53,"s":""},{"g":"Δcp12","c":"HCss","v":11,"e":11.3,"s":""},{"g":"Δcp12","c":"LC1h","v":110.2,"e":151.6,"s":""},{"g":"Δcp12","c":"LC3h","v":50,"e":63.5,"s":""},{"g":"Δcp12","c":"LCss","v":55.3,"e":61.2,"s":""}]},
"resolve":{"axis":{"x":"independent","y":"independent"}},
"layer":[
{"mark":{"type":"bar","stroke":"#222","strokeWidth":1},"encoding":{
"x":{"field":"g","type":"nominal","scale":{"domain":["WT","Δcp12"],"range":[1804,2413],"paddingInner":0,"paddingOuter":0},"axis":{"orient":"bottom","offset":-87,"title":null,"labelAngle":0,"labelFontSize":26,"labelPadding":22,"tickSize":4,"labelFontStyle":{"condition":{"test":"datum.value !== 'WT'","value":"italic"},"value":"normal"}}},
"xOffset":{"field":"c","type":"nominal","scale":{"domain":["HCss","LC1h","LC3h","LCss"],"paddingInner":0.3,"paddingOuter":1}},
"y":{"field":"v","type":"quantitative","scale":{"domain":[0,200],"range":[2138,1712],"nice":false,"zero":true},"axis":{"orient":"left","offset":-1804,"title":"Avg [pmol/OD*mL-1]","values":[0,50,100,150,200],"format":"d"}},
"color":{"field":"c","type":"nominal","scale":{"domain":["HCss","LC1h","LC3h","LCss"],"range":["#000000","#bdbdbd","#5f5f5f","#dedede"]},"legend":{"title":null,"orient":"none","legendX":2285,"legendY":1730,"symbolType":"M-4,-1H4V1H-4Z","symbolSize":182}}}},
{"mark":{"type":"rule","color":"#000","strokeWidth":1.5},"encoding":{"x":{"field":"g","type":"nominal","axis":{"orient":"top","offset":-1712,"labels":false,"ticks":false,"title":null}},"xOffset":{"field":"c","type":"nominal"},"y":{"field":"v","type":"quantitative","axis":{"orient":"right","offset":-13,"labels":false,"ticks":false,"title":null}},"y2":{"field":"e"}}},
{"mark":{"type":"tick","color":"#000","size":12,"thickness":1.5},"encoding":{"x":{"field":"g","type":"nominal","axis":null},"xOffset":{"field":"c","type":"nominal"},"y":{"field":"e","type":"quantitative","axis":null}}},
{"mark":{"type":"text","fontSize":42,"fontWeight":"bold","baseline":"alphabetic"},"encoding":{"x":{"field":"g","type":"nominal","axis":null},"xOffset":{"field":"c","type":"nominal"},"y":{"field":"e","type":"quantitative","axis":null},"text":{"field":"s"}}},
{"data":{"values":[{"t":"Pyr"}]},"mark":{"type":"text","fontSize":29,"baseline":"middle","dx":-20},"encoding":{"x":{"datum":"Δcp12","type":"nominal","bandPosition":0,"axis":null},"y":{"datum":186.8,"type":"quantitative","axis":null},"text":{"field":"t"}}}
]}
]
}
